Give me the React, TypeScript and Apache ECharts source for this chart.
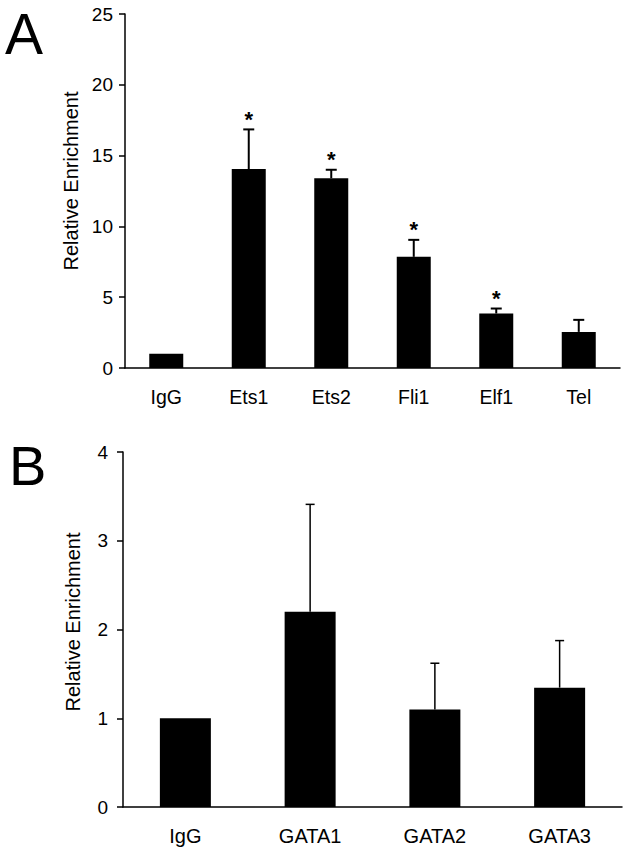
import React, { useEffect, useRef } from "react";
import * as echarts from "echarts";

const categoriesA = ["IgG", "Ets1", "Ets2", "Fli1", "Elf1", "Tel"];
const valuesA = [1.0, 14.05, 13.4, 7.85, 3.85, 2.55];
const errorsA = [0, 2.8, 0.6, 1.2, 0.35, 0.85];
const significantA = [0, 1, 1, 1, 1, 0];

const categoriesB = ["IgG", "GATA1", "GATA2", "GATA3"];
const valuesB = [1.0, 2.2, 1.1, 1.345];
const errorsB = [0, 1.21, 0.52, 0.53];
const significantB = [0, 0, 0, 0];

const yTicksA = { min: 0, max: 25, interval: 5 };
const yTicksB = { min: 0, max: 4, interval: 1 };

const FONT = "'Liberation Sans', Arial, sans-serif";

function errorRenderer(lineWidth: number, capHalf: number) {
  return (params: any, api: any) => {
    const idx = api.value(0);
    const mean = api.value(1);
    const upper = api.value(2);
    const sig = api.value(3);
    const base = api.coord([idx, mean]);
    const top = api.coord([idx, upper]);
    const children: any[] = [];
    if (upper > mean) {
      children.push({
        type: "line",
        shape: { x1: base[0], y1: base[1], x2: top[0], y2: top[1] },
        style: { stroke: "#000", lineWidth },
      });
      children.push({
        type: "line",
        shape: { x1: top[0] - capHalf, y1: top[1], x2: top[0] + capHalf, y2: top[1] },
        style: { stroke: "#000", lineWidth },
      });
    }
    if (sig) {
      children.push({
        type: "text",
        x: top[0],
        y: top[1] - 10,
        style: {
          text: "*",
          fontSize: 22,
          fontWeight: "bold",
          fontFamily: FONT,
          fill: "#000",
          align: "center",
          verticalAlign: "middle",
        },
      });
    }
    return { type: "group", children };
  };
}

export default function App() {
  const ref = useRef<HTMLDivElement>(null);
  useEffect(() => {
    if (!ref.current) return;
    const chart = echarts.init(ref.current, undefined, { renderer: "svg" });
    const errDataA = categoriesA.map((_, i) => [i, valuesA[i], valuesA[i] + errorsA[i], significantA[i]]);
    const errDataB = categoriesB.map((_, i) => [i, valuesB[i], valuesB[i] + errorsB[i], significantB[i]]);
    const axisLine = { show: true, lineStyle: { color: "#000", width: 1.5 } };
    const labelStyle = { color: "#000", fontFamily: FONT, fontSize: 19 };
    chart.setOption({
      animation: false,
      backgroundColor: "#fff",
      grid: [
        { left: 125, top: 14, width: 495, height: 354, containLabel: false },
        { left: 123, top: 452, width: 499, height: 355, containLabel: false },
      ],
      xAxis: [
        {
          type: "category",
          gridIndex: 0,
          data: categoriesA,
          axisLine,
          axisTick: { show: false },
          axisLabel: { ...labelStyle, fontSize: 19.5, margin: 19 },
          splitLine: { show: false },
        },
        {
          type: "category",
          gridIndex: 1,
          data: categoriesB,
          axisLine,
          axisTick: { show: false },
          axisLabel: { ...labelStyle, fontSize: 20, margin: 19 },
          splitLine: { show: false },
        },
      ],
      yAxis: [
        {
          type: "value",
          gridIndex: 0,
          ...yTicksA,
          name: "Relative Enrichment",
          nameLocation: "middle",
          nameGap: 42,
          nameTextStyle: { color: "#000", fontFamily: FONT, fontSize: 20, padding: [0, 0, 0, 20] },
          axisLine,
          axisTick: { show: true, inside: false, length: 6, lineStyle: { color: "#000", width: 1.5 } },
          axisLabel: { ...labelStyle, margin: 12 },
          splitLine: { show: false },
        },
        {
          type: "value",
          gridIndex: 1,
          ...yTicksB,
          name: "Relative Enrichment",
          nameLocation: "middle",
          nameGap: 40,
          nameTextStyle: { color: "#000", fontFamily: FONT, fontSize: 20, padding: [0, 0, 0, 15] },
          axisLine,
          axisTick: { show: true, inside: false, length: 6, lineStyle: { color: "#000", width: 1.5 } },
          axisLabel: { ...labelStyle, margin: 15 },
          splitLine: { show: false },
        },
      ],
      graphic: [
        {
          type: "text",
          left: 5,
          top: 5,
          style: { text: "A", fontSize: 57, fontFamily: FONT, fill: "#000" },
        },
        {
          type: "text",
          left: 9,
          top: 437,
          style: { text: "B", fontSize: 56, fontFamily: FONT, fill: "#000" },
        },
      ],
      series: [
        {
          type: "bar",
          xAxisIndex: 0,
          yAxisIndex: 0,
          data: valuesA,
          barWidth: 34,
          itemStyle: { color: "#000" },
        },
        {
          type: "custom",
          xAxisIndex: 0,
          yAxisIndex: 0,
          data: errDataA,
          renderItem: errorRenderer(2, 5.5),
          z: 5,
        },
        {
          type: "bar",
          xAxisIndex: 1,
          yAxisIndex: 1,
          data: valuesB,
          barWidth: 51,
          itemStyle: { color: "#000" },
        },
        {
          type: "custom",
          xAxisIndex: 1,
          yAxisIndex: 1,
          data: errDataB,
          renderItem: errorRenderer(1.5, 4.5),
          z: 5,
        },
      ],
    });
    return () => chart.dispose();
  }, []);
  return (
    <div
      ref={ref}
      style={{ position: "absolute", left: 0, top: 0, width: 624, height: 853, background: "#fff" }}
    />
  );
}
